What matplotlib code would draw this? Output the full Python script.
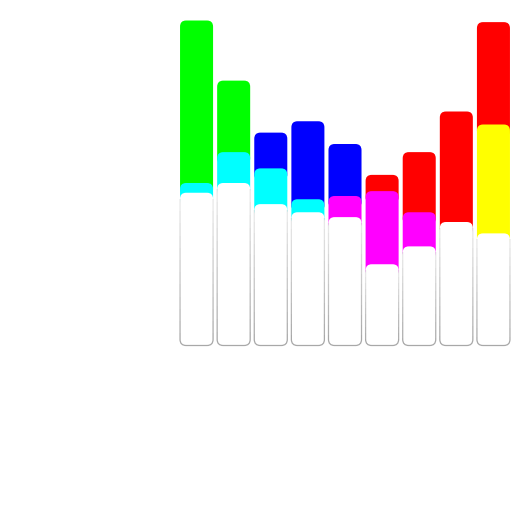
import numpy as np
import matplotlib
matplotlib.use("Agg")
import matplotlib.pyplot as plt
from matplotlib.patches import FancyBboxPatch, Rectangle

# segment values per bar, bottom to top
white = [47.0, 50.0, 43.5, 41.0, 39.5, 25.0, 30.5, 38.0, 34.5]
cyan = [3.0, 9.5, 11.0, 4.0, 0, 0, 0, 0, 0]
magenta = [0, 0, 0, 0, 6.5, 22.5, 10.5, 0, 0]
yellow = [0, 0, 0, 0, 0, 0, 0, 0, 33.5]
lime = [50.0, 22.0, 0, 0, 0, 0, 0, 0, 0]
blue = [0, 0, 11.0, 24.0, 16.0, 0, 0, 0, 0]
red = [0, 0, 0, 0, 0, 5.0, 18.5, 34.0, 31.5]

series = [white, cyan, magenta, yellow, lime, blue, red]
colors = ["#ffffff", "#00ffff", "#ff00ff", "#ffff00", "#00ff00", "#0000ff", "#ff0000"]

n = len(white)
width = 0.89
fig = plt.figure(figsize=(5.12, 5.12), dpi=100)
ax = fig.add_axes([178 / 512, 166.5 / 512, 334 / 512, 325 / 512])
ax.set_xlim(-0.5, n - 0.5)
ax.set_ylim(0, 100)
ax.axis("off")

rx = 0.165            # corner radius in x units
ry = 1.88             # corner radius in y units
aspect = ry / rx


def rbox(x0, y0, h, **kw):
    return FancyBboxPatch((x0, y0), width, h,
                          boxstyle=f"round,pad=0,rounding_size={rx}",
                          mutation_aspect=aspect, **kw)


data = np.array(series)
cum = np.cumsum(data, axis=0)

for i in range(n):
    x0 = i - width / 2
    levels = [k for k in range(len(series)) if data[k, i] > 0]
    # draw from top segment down so lower ones overlap rounded corners
    for j in range(len(levels) - 1, 0, -1):
        k = levels[j]
        prev = cum[levels[j - 1], i]
        y0 = max(0, prev - 2 * ry)
        ax.add_patch(rbox(x0, y0, cum[k, i] - y0, facecolor=colors[k],
                          edgecolor="none", zorder=2, clip_on=False))
    top = cum[0, i]
    ax.add_patch(rbox(x0, 0, top, facecolor="white", edgecolor="none",
                      zorder=3, clip_on=False))
    # gray outline fading upward
    nb = 12
    ymax = top - ry
    for b in range(nb):
        ya = ymax * b / nb if b else -3
        yb = ymax * (b + 1) / nb
        edge = rbox(x0, 0, top, facecolor="none", edgecolor="#a8a8a8",
                    linewidth=0.9, alpha=1.0 - 0.8 * b / nb, zorder=4)
        ax.add_patch(edge)
        clip = Rectangle((x0 - 0.1, ya), width + 0.2, yb - ya,
                         transform=ax.transData)
        edge.set_clip_path(clip)

fig.savefig("out.png", dpi=100, facecolor="white")
